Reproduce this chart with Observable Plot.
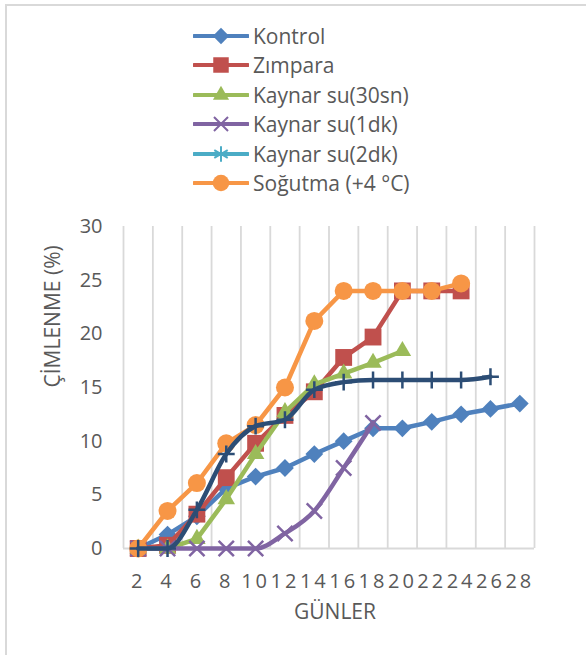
<!DOCTYPE html>
<html>
<head>
<meta charset="utf-8">
<script src="https://cdn.jsdelivr.net/npm/d3@7"></script>
<script src="https://cdn.jsdelivr.net/npm/@observablehq/plot@0.6"></script>
<style>
  html, body { margin: 0; padding: 0; background: #fff; overflow: hidden; }
  #wrap { position: relative; width: 586px; height: 655px; font-family: "Open Sans", sans-serif; color: #595959; }
  #frame { position: absolute; left: 5px; top: 4px; width: 700px; height: 800px; border-left: 2px solid #d9d9d9; border-top: 2px solid #d9d9d9; }
  #chart { position: absolute; left: 0; top: 0; }
  #legend { position: absolute; left: 193px; top: 21px; }
  .row { display: flex; align-items: center; height: 29.5px; font-size: 21px; white-space: nowrap; }
  .row svg { margin-right: 4px; }
  [aria-label^="x-axis"] text { letter-spacing: 3px; }
</style>
</head>
<body>
<div id="wrap">
  <div id="frame"></div>
  <div id="chart"></div>
  <div id="legend"></div>
</div>
<script>
// ---- data ----
const days = [2, 4, 6, 8, 10, 12, 14, 16, 18, 20, 22, 24, 26, 28];
const yTicks = [0, 5, 10, 15, 20, 25, 30];
const seriesNames = ["Kontrol", "Zımpara", "Kaynar su(30sn)", "Kaynar su(1dk)", "Kaynar su(2dk)", "Soğutma (+4 °C)", ""];
const kontrol  = [0, 1.3, 3.0, 5.6, 6.7, 7.5, 8.8, 10, 11.2, 11.2, 11.8, 12.5, 13, 13.5];
const zimpara  = [0, 0.3, 3.2, 6.6, 9.8, 12.4, 14.6, 17.8, 19.7, 24, 24, 24];
const kaynar30 = [0, 0, 0.9, 4.6, 8.8, 12.7, 15.3, 16.3, 17.3, 18.4];
const kaynar1  = [0, 0, 0, 0, 0, 1.4, 3.5, 7.5, 11.7];
const kaynar2  = [0];
const sogutma  = [0, 3.5, 6.1, 9.8, 11.5, 15, 21.2, 24, 24, 24, 24, 24.7];
const seri7    = [0, 0, 3.6, 8.8, 11.4, 12, 14.8, 15.5, 15.7, 15.7, 15.7, 15.7, 16];
const xLabel = "GÜNLER";
const yLabel = "ÇİMLENME (%)";

// ---- styles ----
const styles = [
  {color: "#4F81BD", symbol: "diamond2", r: 8,   filled: true,  curve: "linear", legend: true},
  {color: "#C0504D", symbol: "square",   r: 9.5, filled: true,  curve: "linear", legend: true},
  {color: "#9BBB59", symbol: "triangle", r: 6.5, filled: true,  curve: "linear", legend: true},
  {color: "#8064A2", symbol: "times",    r: 7,   filled: false, curve: "monotone-x", legend: true},
  {color: "#4BACC6", symbol: "asterisk", r: 8,   filled: false, curve: "linear", legend: true},
  {color: "#F79646", symbol: "circle",   r: 9,   filled: true,  curve: "linear", legend: true},
  {color: "#2C4D75", symbol: "plus",     r: 5.5, filled: false, curve: "monotone-x", legend: false}
];
const valueLists = [kontrol, zimpara, kaynar30, kaynar1, kaynar2, sogutma, seri7];

const gridX = days.map(d => d - 1).concat([days[days.length - 1] + 1]);

const marks = [
  Plot.ruleX(gridX, {stroke: "#d9d9d9", strokeWidth: 1.8}),
  Plot.ruleY([0], {stroke: "#d9d9d9", strokeWidth: 1.8})
];
valueLists.forEach((vals, k) => {
  const st = styles[k];
  const rows = vals.map((v, i) => ({day: days[i], value: v, name: seriesNames[k]}));
  marks.push(Plot.line(rows, {x: "day", y: "value", stroke: st.color, strokeWidth: 4.5, curve: st.curve, strokeLinejoin: "round"}));
  marks.push(Plot.dot(rows, st.filled
    ? {x: "day", y: "value", symbol: () => st.symbol, r: st.r, fill: st.color, stroke: "none"}
    : {x: "day", y: "value", symbol: () => st.symbol, r: st.r, stroke: st.color, strokeWidth: 2.5, fill: "none"}));
});
marks.push(Plot.text([xLabel], {frameAnchor: "bottom", dy: 70, dx: 6, fontSize: 21, fill: "#595959"}));
marks.push(Plot.text([yLabel], {frameAnchor: "left", dx: -70, rotate: -90, fontSize: 21, fill: "#595959"}));

const chart = Plot.plot({
  width: 586,
  height: 655,
  marginTop: 226,
  marginBottom: 107,
  marginLeft: 123,
  marginRight: 52,
  style: {fontFamily: "Open Sans, sans-serif", fontSize: "20px", color: "#595959", background: "transparent"},
  x: {domain: [1, 29], ticks: days, tickSize: 0, tickPadding: 25, label: null, tickFormat: d => String(d)},
  y: {domain: [0, 30], ticks: yTicks, tickSize: 0, tickPadding: 21, label: null},
  marks
});
document.getElementById("chart").appendChild(chart);

// ---- legend ----
const symbolMap = {diamond2: d3.symbolDiamond2, square: d3.symbolSquare, triangle: d3.symbolTriangle, times: d3.symbolTimes, asterisk: d3.symbolAsterisk, circle: d3.symbolCircle, plus: d3.symbolPlus};
const legend = d3.select("#legend");
styles.forEach((st, k) => {
  if (!st.legend) return;
  const row = legend.append("div").attr("class", "row");
  const svg = row.append("svg").attr("width", 56).attr("height", 22);
  svg.append("line").attr("x1", 1).attr("x2", 55).attr("y1", 11).attr("y2", 11)
    .attr("stroke", st.color).attr("stroke-width", 4).attr("stroke-linecap", "round");
  const rr = st.r * 0.92;
  const path = svg.append("path").attr("transform", "translate(28,11)")
    .attr("d", d3.symbol(symbolMap[st.symbol], Math.PI * rr * rr)());
  if (st.filled) path.attr("fill", st.color);
  else path.attr("fill", "none").attr("stroke", st.color).attr("stroke-width", 2);
  row.append("span").text(seriesNames[k]);
});
</script>
</body>
</html>
